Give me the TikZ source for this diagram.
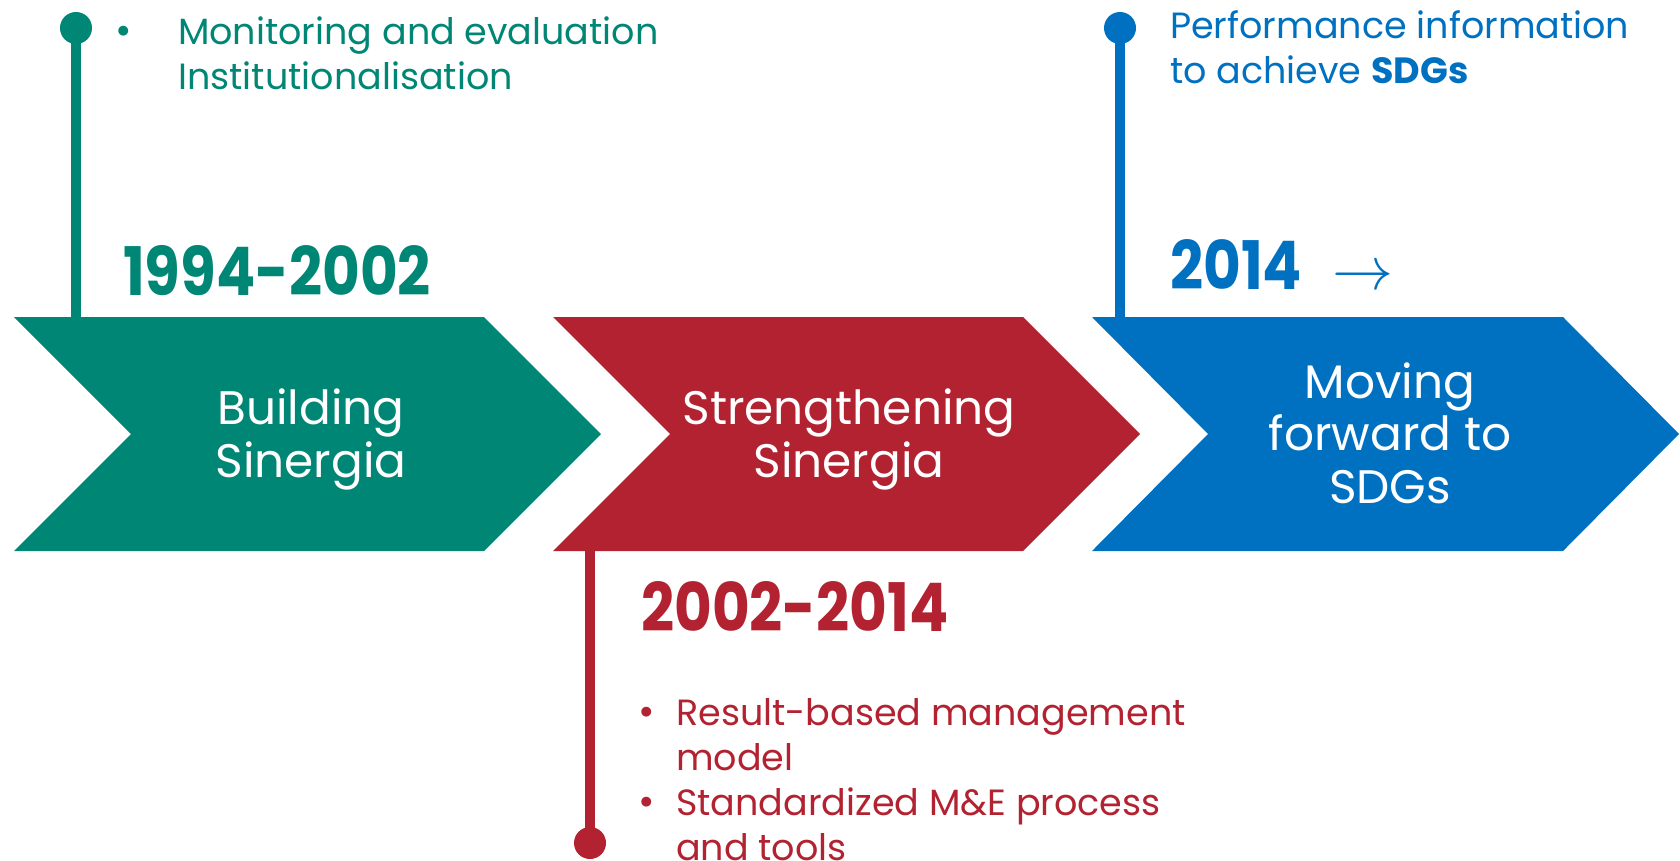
\documentclass[tikz,border=0pt]{standalone}
\usepackage{fontspec}
\usepackage{graphicx}
\setmainfont{Poppins}
\definecolor{cgreen}{HTML}{008675}
\definecolor{cred}{HTML}{B22231}
\definecolor{cblue}{HTML}{0070C0}
\tikzset{
  chev/.style={fill=#1, draw=none},
  stem/.style={line width=10pt, draw=#1},
  dot/.style={circle, fill=#1, minimum size=32pt, inner sep=0pt},
  lbl/.style={anchor=base west, inner sep=0pt, text=#1, font=\fontsize{36.5}{45}\selectfont},
  bul/.style={anchor=base, inner sep=0pt, text=#1, font=\fontsize{40}{45}\selectfont},
  yr/.style={anchor=base west, inner sep=0pt, text=#1, font=\fontsize{67}{67}\selectfont\bfseries},
  ctext/.style={anchor=base, inner sep=0pt, text=white, font=\fontsize{47}{53}\selectfont},
}
\begin{document}
\begin{tikzpicture}[x=1pt,y=-1pt]
\useasboundingbox (0,0) rectangle (1680,860);
% stems and dots
\node[dot=cgreen] (gdot) at (76,28) {};
\coordinate (gfoot) at (76,320);
\draw[stem=cgreen] (gdot.center) -- (gfoot);
\node[dot=cblue] (bdot) at (1120,28) {};
\coordinate (bfoot) at (1120,320);
\draw[stem=cblue] (bdot.center) -- (bfoot);
\node[dot=cred] (rdot) at (590,843) {};
\coordinate (rfoot) at (590,548);
\draw[stem=cred] (rdot.center) -- (rfoot);
% chevrons
\fill[chev=cgreen] (14,317) -- ++(470,0) -- ++(117,117) -- ++(-117,117) -- ++(-470,0) -- ++(117,-117) -- cycle;
\fill[chev=cred] (553,317) -- ++(470,0) -- ++(117,117) -- ++(-117,117) -- ++(-470,0) -- ++(117,-117) -- cycle;
\fill[chev=cblue] (1092,317) -- ++(471,0) -- ++(116,117) -- ++(-116,117) -- ++(-471,0) -- ++(116,-117) -- cycle;
% chevron texts
\node[ctext] (c1a) at (311,424) {Building};
\node[ctext] (c1b) at (311,477) {Sinergia};
\node[ctext] (c2a) at (849,424) {Strengthening};
\node[ctext] (c2b) at (849,477) {Sinergia};
\node[ctext] (c3a) at (1390,398) {Moving};
\node[ctext] (c3b) at (1390,450) {forward to};
\node[ctext] (c3c) at (1390,503) {SDGs};
% green labels
\node[bul=cgreen] (gb1) at (124,44) {•};
\node[lbl=cgreen] (gt1) at (178,44) {Monitoring and evaluation};
\node[lbl=cgreen] (gt2) at (178,89) {Institutionalisation};
\node[yr=cgreen] (gy) at (123,295) {\scalebox{0.865}[1]{1994-2002}};
% blue labels
\node[lbl=cblue] (bt1) at (1170,38) {Performance information};
\node[lbl=cblue] (bt2) at (1170,83) {to achieve {\bfseries SDGs}};
\node[yr=cblue] (by) at (1170,289) {\scalebox{0.865}[1]{2014}};
\node[anchor=base west, inner sep=0pt, text=cblue] (barr) at (1332,289) {\resizebox{61pt}{!}{$\rightarrow$}};
% red labels
\node[yr=cred] (ry) at (641,631) {\scalebox{0.865}[1]{2002-2014}};
\node[bul=cred] (rb1) at (647,725) {•};
\node[lbl=cred] (rt1) at (676,725) {Result-based management};
\node[lbl=cred] (rt2) at (676,770) {model};
\node[bul=cred] (rb2) at (647,815) {•};
\node[lbl=cred] (rt3) at (676,815) {Standardized M\&E process};
\node[lbl=cred] (rt4) at (676,860) {and tools};
\end{tikzpicture}
\end{document}
